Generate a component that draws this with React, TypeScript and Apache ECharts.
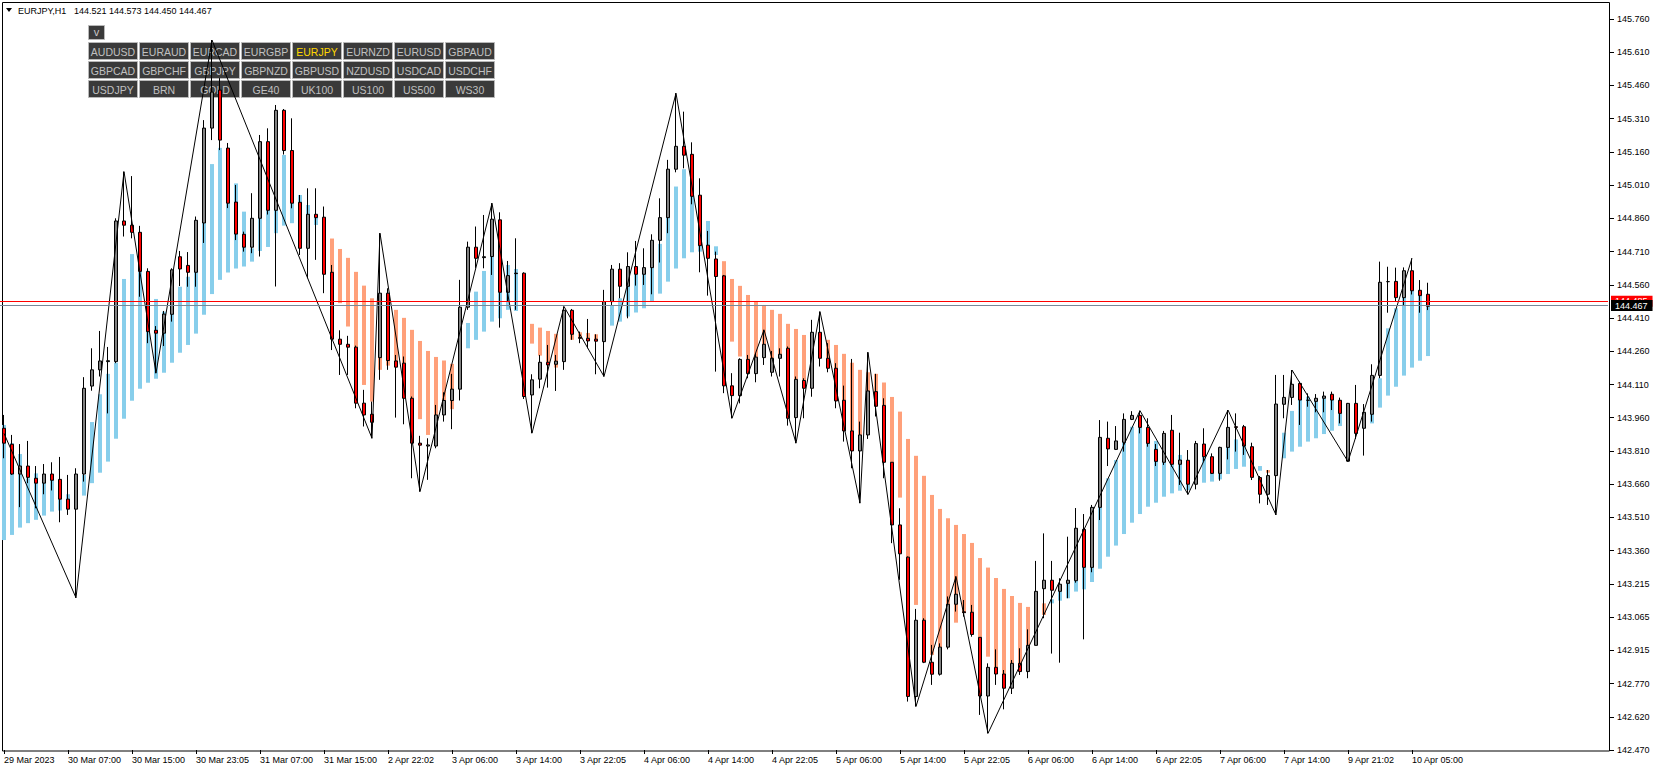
import React, { useEffect, useRef } from 'react';
import * as echarts from 'echarts';

const symbol = 'EURJPY';
const timeframe = 'H1';

const opens = [
  143.918,143.846,143.712,143.748,143.693,143.671,143.712,143.688,143.599,143.554,
  143.712,144.108,144.181,144.218,144.218,144.851,144.832,144.800,144.624,144.359,
  144.346,144.431,144.690,144.651,144.620,144.842,145.269,145.440,145.179,144.936,
  144.791,144.733,144.863,145.208,144.899,145.349,145.168,144.935,144.728,144.881,
  144.868,144.620,144.319,144.296,144.283,144.031,143.981,144.236,144.526,144.221,
  144.211,144.053,143.851,143.838,143.838,143.978,144.043,144.094,144.463,144.733,
  144.686,144.691,144.856,144.530,144.614,144.616,144.068,144.139,144.215,144.206,
  144.218,144.449,144.326,144.323,144.319,144.308,144.488,144.634,144.557,144.646,
  144.611,144.641,144.764,144.866,145.084,145.187,145.151,144.967,144.742,144.680,
  144.604,144.109,144.065,144.228,144.164,144.236,144.170,144.233,144.278,143.966,
  144.133,144.098,144.350,144.233,144.188,144.044,143.906,143.816,143.888,144.083,
  144.021,143.765,143.483,143.338,142.711,143.054,142.865,142.811,142.933,143.126,
  143.092,143.090,142.977,142.713,142.842,142.812,142.748,142.860,142.823,142.941,
  143.196,143.234,143.184,143.220,143.232,143.463,143.292,143.562,143.873,143.823,
  143.855,143.958,143.976,143.922,143.823,143.765,143.909,143.756,143.774,143.666,
  143.847,143.790,143.715,143.832,143.925,143.925,143.835,143.696,143.621,143.705,
  144.026,144.057,144.120,144.044,144.039,144.053,144.071,144.044,143.770,144.030,
  143.918,143.981,144.156,144.578,144.579,144.506,144.627,144.539,144.521,
];

const closes = [
  143.851,143.712,143.748,143.697,143.671,143.712,143.684,143.599,143.554,143.712,
  144.098,144.181,144.221,144.222,144.851,144.832,144.800,144.624,144.353,144.346,
  144.432,144.631,144.635,144.620,144.854,145.269,145.431,145.215,144.931,144.792,
  144.733,144.863,145.208,144.899,145.349,145.168,144.931,144.728,144.881,144.866,
  144.611,144.319,144.296,144.283,144.031,143.978,143.945,144.526,144.223,144.193,
  144.053,143.851,143.842,143.843,143.978,144.043,144.094,144.463,144.733,144.683,
  144.690,144.859,144.530,144.605,144.616,144.061,144.136,144.215,144.203,144.220,
  144.449,144.341,144.323,144.311,144.310,144.488,144.634,144.557,144.646,144.611,
  144.641,144.764,144.866,145.084,145.187,145.147,144.962,144.740,144.683,144.601,
  144.109,144.065,144.228,144.164,144.238,144.296,144.233,144.251,143.963,144.138,
  144.098,144.350,144.233,144.188,144.041,143.906,143.816,143.888,144.086,144.017,
  143.765,143.483,143.353,142.711,143.054,142.865,142.811,142.933,143.126,143.171,
  143.088,142.990,142.713,142.842,142.812,142.748,142.860,142.823,142.941,143.184,
  143.234,143.189,143.216,143.234,143.468,143.292,143.562,143.877,143.825,143.861,
  143.958,143.976,143.922,143.850,143.769,143.895,143.756,143.775,143.666,143.849,
  143.790,143.715,143.832,143.922,143.922,143.838,143.697,143.621,143.705,144.027,
  144.057,144.116,144.045,144.044,144.053,144.063,144.045,143.985,144.030,143.895,
  143.990,144.156,144.575,144.578,144.506,144.627,144.537,144.515,144.467,
];

const highs = [
  143.978,143.888,143.847,143.861,143.748,143.757,143.765,143.789,143.708,143.738,
  144.148,144.278,144.356,144.284,144.863,145.073,145.053,144.829,144.638,144.378,
  144.446,144.638,144.716,144.711,144.871,145.305,145.665,145.494,145.202,145.013,
  144.803,144.976,145.238,145.268,145.373,145.355,145.313,144.968,144.998,144.998,
  144.916,144.653,144.359,144.334,144.290,144.091,144.038,144.796,144.548,144.248,
  144.241,144.061,143.884,143.873,144.023,144.080,144.163,144.586,144.758,144.826,
  144.878,144.931,144.890,144.671,144.773,144.620,144.161,144.248,144.293,144.248,
  144.466,144.455,144.353,144.410,144.341,144.541,144.653,144.661,144.710,144.761,
  144.728,144.791,144.953,145.126,145.426,145.343,145.205,145.043,144.806,144.713,
  144.608,144.166,144.233,144.248,144.256,144.361,144.266,144.278,144.286,144.151,
  144.143,144.406,144.443,144.301,144.211,144.110,144.230,143.948,144.260,144.163,
  144.053,143.765,143.558,143.341,143.105,143.063,142.943,142.950,143.161,143.251,
  143.145,143.123,142.977,142.860,142.923,142.830,142.875,142.928,143.013,143.321,
  143.445,143.321,143.243,143.430,143.559,143.532,143.573,143.955,143.948,143.928,
  143.985,143.995,143.997,143.963,143.847,143.906,143.978,143.898,143.820,143.861,
  143.918,143.805,143.835,144.000,143.985,143.933,143.853,143.703,143.730,144.158,
  144.158,144.180,144.128,144.075,144.072,144.083,144.083,144.056,144.032,144.113,
  144.027,144.206,144.668,144.645,144.641,144.642,144.683,144.585,144.573,
];

const lows = [
  143.783,143.708,143.563,143.671,143.558,143.621,143.638,143.495,143.528,143.155,
  143.678,144.087,144.151,143.985,144.211,144.781,144.773,144.510,144.301,144.166,
  144.288,144.398,144.558,144.555,144.555,144.752,145.215,145.170,144.909,144.765,
  144.713,144.706,144.691,144.880,144.556,145.150,144.908,144.698,144.593,144.676,
  144.526,144.270,144.158,144.158,144.008,143.926,143.873,144.136,144.181,143.966,
  143.936,143.693,143.633,143.686,143.828,143.948,143.914,144.043,144.451,144.640,
  144.638,144.608,144.371,144.488,144.451,144.050,143.896,144.098,144.101,144.086,
  144.181,144.316,144.301,144.278,144.161,144.151,144.473,144.503,144.413,144.560,
  144.563,144.521,144.664,144.796,145.070,145.088,144.926,144.620,144.515,144.173,
  144.076,143.963,144.030,144.143,144.125,144.203,144.151,144.151,143.930,143.851,
  143.963,144.060,144.196,144.170,144.008,143.858,143.738,143.581,143.870,143.971,
  143.693,143.401,143.236,142.688,142.666,142.861,142.763,142.805,142.923,143.093,
  143.070,142.980,142.628,142.545,142.763,142.653,142.722,142.808,142.793,142.941,
  143.063,142.904,142.863,143.153,143.223,142.968,143.270,143.505,143.748,143.820,
  143.813,143.955,143.895,143.835,143.748,143.753,143.745,143.663,143.620,143.643,
  143.770,143.712,143.682,143.778,143.813,143.798,143.685,143.580,143.573,143.528,
  143.963,144.023,143.933,144.015,143.990,143.990,144.000,143.940,143.768,143.870,
  143.795,143.948,144.143,144.438,144.490,144.470,144.520,144.438,144.450,
];

// trend histogram: top / bottom of each bar, trend 1 = up (blue), -1 = down (salmon), 0 = none
const barTop = [
  143.933,143.851,143.802,143.693,143.715,143.671,143.686,143.611,143.621,null,
  143.708,143.946,144.071,144.163,144.213,144.590,144.702,144.623,144.353,144.500,
  144.443,144.510,144.555,144.600,144.620,144.841,145.107,145.180,144.930,145.020,
  144.893,144.728,144.863,144.899,144.899,145.148,144.931,144.968,144.923,144.866,
  null,144.772,144.725,144.685,144.622,144.560,144.503,144.450,144.400,144.451,
  144.415,144.361,144.311,144.266,144.239,144.223,144.208,null,144.392,144.533,
  144.626,144.691,144.530,144.653,144.635,null,144.388,144.371,144.356,144.343,
  null,144.341,144.350,144.347,144.341,null,144.470,144.503,144.557,144.611,
  144.611,144.641,144.748,144.866,145.006,145.084,144.962,144.740,144.851,144.737,
  144.670,144.590,144.559,144.518,144.491,144.473,144.451,144.433,144.388,144.365,
  144.338,null,null,144.316,144.293,144.253,144.213,144.181,144.170,144.163,
  144.124,144.059,143.993,143.870,143.794,143.704,143.618,143.555,143.513,143.483,
  143.442,143.402,143.334,143.291,143.244,143.195,143.163,143.132,143.114,null,
  143.130,143.148,143.184,143.220,143.232,143.292,143.292,143.562,143.693,143.775,
  143.855,143.925,143.922,143.850,143.861,143.765,143.756,143.798,143.666,null,
  143.790,143.715,143.715,143.868,143.868,143.838,null,143.748,143.730,null,
  143.898,143.996,144.045,144.060,144.039,144.053,144.045,143.985,null,null,
  null,143.981,144.143,144.368,144.458,144.506,144.537,144.515,144.465,
];

const barBottom = [
  143.415,143.438,143.471,143.491,143.506,143.525,143.543,143.548,143.554,null,
  143.615,143.671,143.718,143.768,143.871,143.961,144.042,144.096,144.123,144.141,
  144.168,144.213,144.258,144.293,144.344,144.429,144.522,144.586,144.619,144.637,
  144.646,144.668,144.716,144.734,144.796,144.830,144.841,144.758,144.833,144.833,
  null,144.548,144.481,144.376,144.283,144.113,144.038,144.181,144.200,144.221,
  144.211,144.053,143.959,143.888,143.978,144.043,144.004,null,144.278,144.316,
  144.353,144.398,144.413,144.451,144.446,null,144.299,144.245,144.215,144.191,
  null,144.316,144.323,144.323,144.320,null,144.380,144.398,144.421,144.439,
  144.458,144.488,144.524,144.578,144.637,144.683,144.710,144.713,144.683,144.698,
  144.400,144.308,144.241,144.228,144.238,144.296,144.233,144.251,144.278,144.138,
  144.133,null,null,144.233,144.188,144.044,143.906,143.888,144.086,144.083,
  144.021,143.765,143.606,143.338,143.123,143.054,142.898,142.933,143.126,143.043,
  143.088,143.090,142.977,142.890,142.842,142.812,142.860,142.860,142.941,null,
  143.078,143.130,143.142,143.153,143.183,143.193,143.226,143.286,143.340,143.390,
  143.442,143.493,143.532,143.565,143.583,143.610,143.625,143.637,143.640,null,
  143.673,143.678,143.688,143.712,143.735,143.745,null,143.727,143.718,null,
  143.783,143.813,143.835,143.858,143.873,143.892,143.907,143.928,null,null,
  null,143.940,144.011,144.065,144.105,144.155,144.191,144.222,144.243,
];

const barTrend = [
  1,1,1,1,1,1,1,1,1,0,
  1,1,1,1,1,1,1,1,1,1,
  1,1,1,1,1,1,1,1,1,1,
  1,1,1,1,1,1,1,1,1,1,
  0,-1,-1,-1,-1,-1,-1,-1,-1,-1,
  -1,-1,-1,-1,-1,-1,-1,0,1,1,
  1,1,1,1,1,0,-1,-1,-1,-1,
  0,-1,-1,-1,-1,0,1,1,1,1,
  1,1,1,1,1,1,1,1,1,1,
  -1,-1,-1,-1,-1,-1,-1,-1,-1,-1,
  -1,0,0,-1,-1,-1,-1,-1,-1,-1,
  -1,-1,-1,-1,-1,-1,-1,-1,-1,-1,
  -1,-1,-1,-1,-1,-1,-1,-1,-1,0,
  -1,1,1,1,1,1,1,1,1,1,
  1,1,1,1,1,1,1,1,1,0,
  1,1,1,1,1,1,0,1,-1,0,
  1,1,1,1,1,1,1,1,0,0,
  0,1,1,1,1,1,1,1,1,
];

const zigzagIndex = [0,9,15,19,26,46,47,52,61,66,70,75,84,91,95,99,102,107,108,114,119,123,142,148,153,159,161,168,176];
const zigzagPrice = [143.895,143.155,145.073,144.166,145.665,143.873,144.796,143.633,144.931,143.896,144.466,144.151,145.426,143.963,144.361,143.851,144.443,143.581,144.260,142.666,143.251,142.545,143.997,143.620,144.000,143.528,144.180,143.768,144.683];

const xTickLabels = ['29 Mar 2023','30 Mar 07:00','30 Mar 15:00','30 Mar 23:05','31 Mar 07:00','31 Mar 15:00','2 Apr 22:02','3 Apr 06:00','3 Apr 14:00','3 Apr 22:05','4 Apr 06:00','4 Apr 14:00','4 Apr 22:05','5 Apr 06:00','5 Apr 14:00','5 Apr 22:05','6 Apr 06:00','6 Apr 14:00','6 Apr 22:05','7 Apr 06:00','7 Apr 14:00','9 Apr 21:02','10 Apr 05:00'];
const xTickStep = 8;

const yTickLabels = ['145.760','145.610','145.460','145.310','145.160','145.010','144.860','144.710','144.560','144.410','144.260','144.110','143.960','143.810','143.660','143.510','143.360','143.215','143.065','142.915','142.770','142.620','142.470'];
const yMin = 142.47;
const yMax = 145.76;

const lineLevels = [144.485, 144.467];

const buttonRows = [
  ['AUDUSD','EURAUD','EURCAD','EURGBP','EURJPY','EURNZD','EURUSD','GBPAUD'],
  ['GBPCAD','GBPCHF','GBPJPY','GBPNZD','GBPUSD','NZDUSD','USDCAD','USDCHF'],
  ['USDJPY','BRN','GOLD','GE40','UK100','US100','US500','WS30'],
];

const FONT = '"Liberation Sans", Arial, sans-serif';

export default function App() {
  const ref = useRef<HTMLDivElement>(null);

  useEffect(() => {
    if (!ref.current) return;
    const chart = echarts.init(ref.current, null, { renderer: 'svg' });

    const nCats = 201;
    const cats = Array.from({ length: nCats }, (_, i) => String(i));
    const candleData = opens.map((o, i) => [o, closes[i], lows[i], highs[i]]);
    const barData: any[] = [];
    barTop.forEach((t, i) => {
      if (t != null && barBottom[i] != null && barTrend[i] !== 0) barData.push([i, barBottom[i], t, barTrend[i]]);
    });
    const zz: (number | null)[] = opens.map(() => null);
    zigzagIndex.forEach((k, i) => { zz[k] = zigzagPrice[i]; });

    const yStep = (yMax - yMin) / (yTickLabels.length - 1);
    const yTicks = yTickLabels.map((_, i) => yMax - i * yStep);

    const last = opens.length - 1;
    const headerVals = [opens[last], highs[last], lows[last], closes[last]].map((v) => v.toFixed(3)).join(' ');

    const graphics: any[] = [
      { type: 'rect', silent: true, z: 0, shape: { x: 2.5, y: 2.5, width: 1607, height: 748.5 }, style: { fill: 'transparent', stroke: '#000', lineWidth: 1 } },
      { type: 'polygon', silent: true, z: 10, shape: { points: [[6, 8], [12, 8], [9, 12]] }, style: { fill: '#000' } },
      { type: 'text', silent: true, z: 10, x: 18, y: 11, style: { text: `${symbol},${timeframe}`, fill: '#000', font: `9px ${FONT}`, verticalAlign: 'middle', align: 'left' } },
      { type: 'text', silent: true, z: 10, x: 74, y: 11, style: { text: headerVals, fill: '#000', font: `9px ${FONT}`, verticalAlign: 'middle', align: 'left' } },
      { type: 'rect', silent: true, z: 0, shape: { x: 88.5, y: 25.5, width: 16, height: 14 }, style: { fill: '#3a3a3a', stroke: '#b8b8b8', lineWidth: 1 } },
      { type: 'text', silent: true, z: 0, x: 96.5, y: 32, style: { text: 'v', fill: '#c8c8c8', font: `11px ${FONT}`, align: 'center', verticalAlign: 'middle' } },
    ];
    buttonRows.forEach((row, r) => {
      row.forEach((name, c) => {
        const bx = 88.5 + c * 51;
        const by = 42.5 + r * 19;
        graphics.push({ type: 'rect', silent: true, z: 0, shape: { x: bx, y: by, width: 49, height: 17 }, style: { fill: '#3a3a3a', stroke: '#b8b8b8', lineWidth: 1 } });
        graphics.push({ type: 'text', silent: true, z: 0, x: bx + 24.5, y: by + 9, style: { text: name, fill: name === symbol ? '#ffd700' : '#c0c0c0', font: `10.5px ${FONT}`, align: 'center', verticalAlign: 'middle' } });
      });
    });

    const option: any = {
      animation: false,
      backgroundColor: '#ffffff',
      textStyle: { fontFamily: FONT },
      grid: { left: 0, top: 19, width: 1608, height: 731, containLabel: false },
      xAxis: {
        type: 'category',
        data: cats,
        boundaryGap: true,
        axisLine: { show: false },
        splitLine: { show: false },
        axisTick: {
          show: true,
          alignWithLabel: true,
          length: 4,
          interval: (i: number) => i % xTickStep === 0 && i / xTickStep < xTickLabels.length,
          lineStyle: { color: '#000', width: 1 },
        },
        axisLabel: {
          interval: (i: number) => i % xTickStep === 0 && i / xTickStep < xTickLabels.length,
          formatter: (_v: string, i: number) => xTickLabels[i / xTickStep] ?? '',
          align: 'left',
          margin: 5,
          fontSize: 9,
          fontFamily: FONT,
          color: '#000',
        },
      },
      yAxis: {
        type: 'value',
        position: 'right',
        min: yMin,
        max: yMax,
        offset: 2,
        scale: true,
        axisLine: { show: false },
        splitLine: { show: false },
        axisTick: { show: true, customValues: yTicks, length: 4, lineStyle: { color: '#000', width: 1 } },
        axisLabel: {
          customValues: yTicks,
          formatter: (v: number) => {
            const idx = Math.round((yMax - v) / yStep);
            return yTickLabels[idx] ?? '';
          },
          margin: 7,
          fontSize: 9,
          fontFamily: FONT,
          color: '#000',
        },
      },
      graphic: graphics,
      series: [
        {
          type: 'custom',
          name: 'trend',
          z: 1,
          silent: true,
          data: barData,
          encode: { x: 0, y: [1, 2] },
          renderItem: (_p: any, api: any) => {
            const k = api.value(0);
            const lo = api.coord([k, api.value(1)]);
            const hi = api.coord([k, api.value(2)]);
            return {
              type: 'rect',
              shape: { x: lo[0] - 2, y: hi[1], width: 4, height: Math.max(1, lo[1] - hi[1]) },
              style: { fill: api.value(3) > 0 ? '#87ceeb' : '#ffa07a' },
            };
          },
        },
        {
          type: 'candlestick',
          name: symbol,
          z: 2,
          silent: true,
          barWidth: 4,
          data: candleData,
          itemStyle: {
            color: '#808080',
            color0: '#ff0000',
            borderColor: '#000',
            borderColor0: '#000',
            borderColorDoji: '#000',
            borderWidth: 1,
          },
        },
        {
          type: 'line',
          name: 'zigzag',
          z: 3,
          silent: true,
          data: zz,
          connectNulls: true,
          symbol: 'none',
          lineStyle: { color: '#000', width: 1 },
          markLine: {
            silent: true,
            symbol: ['none', 'none'],
            data: [
              {
                yAxis: lineLevels[0],
                lineStyle: { color: '#ff0000', width: 1, type: 'solid' },
                label: { show: true, position: 'end', formatter: lineLevels[0].toFixed(3), backgroundColor: '#ff0000', color: '#fff', fontSize: 9, fontFamily: FONT, padding: [1, 5, 1, 4], distance: 3 },
              },
              {
                yAxis: lineLevels[1],
                lineStyle: { color: '#778899', width: 1, type: 'solid' },
                label: { show: true, position: 'end', formatter: lineLevels[1].toFixed(3), backgroundColor: '#000', color: '#fff', fontSize: 9, fontFamily: FONT, padding: [1, 5, 1, 4], distance: 3 },
              },
            ],
          },
        },
      ],
    };

    chart.setOption(option);
    return () => chart.dispose();
  }, []);

  return (
    <div
      ref={ref}
      style={{ position: 'fixed', left: 0, top: 0, width: 1657, height: 774, background: '#fff' }}
    />
  );
}
